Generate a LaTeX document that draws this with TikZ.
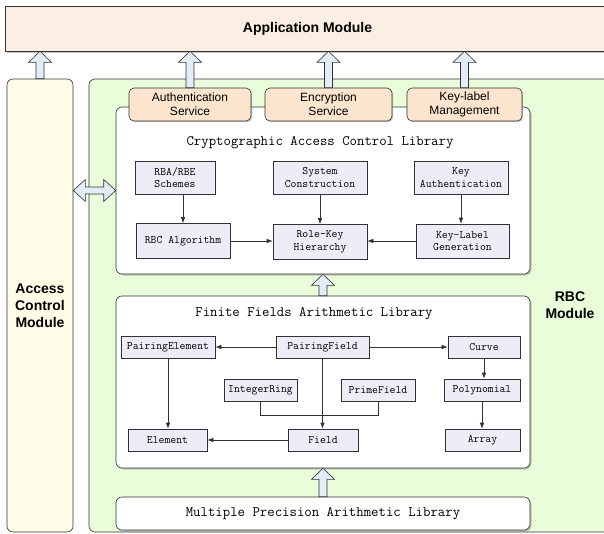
\documentclass[tikz,border=0pt]{standalone}
\usepackage{fontspec}
\setsansfont{Liberation Sans}
\usepackage{tikz}
\usetikzlibrary{arrows.meta,calc,shadows,positioning}
\definecolor{linegray}{RGB}{50,50,50}
\definecolor{appfill}{RGB}{251,238,226}
\definecolor{servfill}{RGB}{252,229,206}
\definecolor{accfill}{RGB}{255,253,232}
\definecolor{rbcfill}{RGB}{234,253,218}
\definecolor{partfill}{RGB}{238,237,247}
\definecolor{arrowblue}{RGB}{228,236,248}

\tikzset{
  module/.style={draw=linegray, text=black, rounded corners=6pt, align=center,
    font=\sffamily\bfseries\fontsize{14}{17}\selectfont},
  service/.style={draw=linegray, fill=servfill, text=black, rounded corners=5pt, align=center,
    inner sep=1pt, minimum height=33, drop shadow={shadow xshift=1.2pt, shadow yshift=-1.2pt, opacity=0.45},
    font=\sffamily\fontsize{12}{14}\selectfont},
  libbox/.style={draw=linegray, fill=white, text=black, rounded corners=6pt, minimum width=414,
    drop shadow={shadow xshift=1.5pt, shadow yshift=-1.5pt, opacity=0.45}},
  libtitle/.style={text=black, font=\ttfamily\fontsize{14.4}{17}\selectfont},
  part/.style={draw=linegray, fill=partfill, text=black, align=center, inner sep=1pt,
    font=\ttfamily\fontsize{11.4}{12.6}\selectfont},
  fatup/.style={draw=linegray, fill=arrowblue, to path={
    let \p1=(\tikztostart), \p2=(\tikztotarget) in
    (\x1-4pt,\y1) -- (\x1-4pt,\y2-11pt) -- (\x1-11.5pt,\y2-11pt) -- (\x1,\y2)
    -- (\x1+11.5pt,\y2-11pt) -- (\x1+4pt,\y2-11pt) -- (\x1+4pt,\y1) -- cycle}},
  fatlr/.style={draw=linegray, fill=arrowblue, to path={
    let \p1=(\tikztostart), \p2=(\tikztotarget) in
    (\x1,\y1) -- (\x1+12pt,\y1+11pt) -- (\x1+12pt,\y1+3.5pt) -- (\x2-12pt,\y1+3.5pt)
    -- (\x2-12pt,\y1+11pt) -- (\x2,\y1) -- (\x2-12pt,\y1-11pt) -- (\x2-12pt,\y1-3.5pt)
    -- (\x1+12pt,\y1-3.5pt) -- (\x1+12pt,\y1-11pt) -- cycle}}
}

\begin{document}
\begin{tikzpicture}[x=1pt, y=-1pt, linegray, >={Latex[length=6pt,width=4.5pt]}, semithick]
	\useasboundingbox (0,0) rectangle (604,533);

	% outer modules
	\node[module, fill=appfill, minimum width=605, minimum height=45,
	  drop shadow={shadow xshift=1.5pt, shadow yshift=-1.5pt, opacity=0.45}, rounded corners=0pt]
	  (app) at (307.5,28.5) {Application Module};
	\node[module, fill=accfill, minimum width=66, minimum height=453] (acc) at (40,305.5) {Access\\Control\\Module};
	\node[module, fill=rbcfill, minimum width=526, minimum height=453] (rbc) at (352,305.5) {};
	\node[font=\sffamily\bfseries\fontsize{14}{17}\selectfont, align=center, text=black] (rbclabel) at (570,305) {RBC\\Module};

	\draw[fatup] (acc.north) to (acc.north |- app.south);

	% cryptographic access control library
	\node[libbox, minimum height=167] (crypt) at (323,190.5) {};
	\draw[fatlr] (acc.east |- crypt.west) to (crypt.west);
	\node[libtitle] (crypttitle) at (320,143) {Cryptographic Access Control Library};

	\node[service, minimum width=122] (auth) at (190,104.5) {Authentication\\Service};
	\node[service, minimum width=127] (enc) at (328.5,104.5) {Encryption\\Service};
	\node[service, minimum width=115] (keyman) at (464.5,104.5) {Key-label\\Management};
	\foreach \s in {auth,enc,keyman}
		\draw[fatup] (\s.north) to (\s.north |- app.south);

	\node[part, minimum width=80, minimum height=33] (rba) at (175,177.5) {RBA/RBE\\Schemes};
	\node[part, minimum width=94, minimum height=33] (syscon) at (320,177.5) {System\\Construction};
	\node[part, minimum width=94, minimum height=33] (keyauth) at (461,177.5) {Key\\Authentication};
	\node[part, minimum width=94, minimum height=35] (rbcalg) at (183,241) {RBC Algorithm};
	\node[part, minimum width=94, minimum height=35] (rolekey) at (320,242) {Role-Key\\Hierarchy};
	\node[part, minimum width=93, minimum height=34] (keylabel) at (462.5,241) {Key-Label\\Generation};

	\draw[->] (rbcalg.north |- rba.south) -- (rbcalg.north);
	\draw[->] (syscon) -- (rolekey);
	\draw[->] (keyauth.south) -- (keyauth.south |- keylabel.north);
	\draw[->] (rbcalg.east) -- (rolekey.west |- rbcalg.east);
	\draw[->] (keylabel.west) -- (rolekey.east |- keylabel.west);

	% finite fields arithmetic library
	\node[libbox, minimum height=172] (finite) at (323,382) {};
	\draw[fatup] (finite.north) to (crypt.south);
	\node[libtitle] (finitetitle) at (314,314) {Finite Fields Arithmetic Library};

	\node[part, minimum width=94, minimum height=22] (pairel) at (168,347) {PairingElement};
	\node[part, minimum width=93, minimum height=22] (pairf) at (322.5,347) {PairingField};
	\node[part, minimum width=72, minimum height=22] (curve) at (484,347) {Curve};
	\node[part, minimum width=73, minimum height=22] (intring) at (260.5,390) {IntegerRing};
	\node[part, minimum width=74, minimum height=22] (primef) at (378,390) {PrimeField};
	\node[part, minimum width=76, minimum height=22] (poly) at (482,390) {Polynomial};
	\node[part, minimum width=79, minimum height=22] (elem) at (167.5,440) {Element};
	\node[part, minimum width=70, minimum height=22] (field) at (323,440) {Field};
	\node[part, minimum width=75, minimum height=22] (array) at (482.5,440) {Array};

	\draw[->] (pairf) -- (pairel);
	\draw[->] (pairf) -- (curve);
	\draw[->] (pairel.south) -- (pairel.south |- elem.north);
	\draw[->] (pairf.south) -- (pairf.south |- field.north);
	\draw (intring.south) -- ++(0,14) -| (primef.south);
	\draw[->] (field) -- (elem);
	\draw[->] (curve.south) -- (curve.south |- poly.north);
	\draw[->] (poly.south) -- (poly.south |- array.north);

	% multiple precision arithmetic library
	\node[libbox, minimum height=33, font=\ttfamily\fontsize{14.4}{17}\selectfont] (mpal) at (323,513.5) {Multiple Precision Arithmetic Library};
	\draw[fatup] (mpal.north) to (finite.south);

\end{tikzpicture}
\end{document}
